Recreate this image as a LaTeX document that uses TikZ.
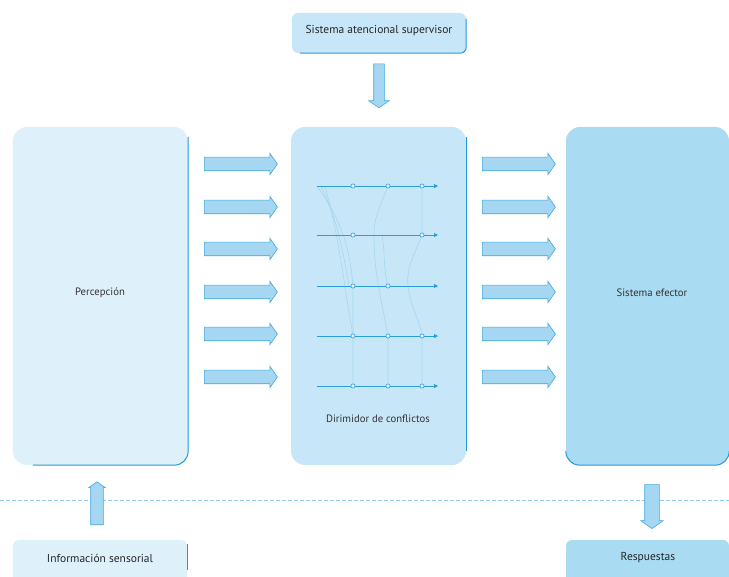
\documentclass[tikz,border=0pt]{standalone}
\usepackage{fontspec}
\setmainfont{PT Sans}
\usetikzlibrary{shapes.arrows,arrows.meta}

\definecolor{lightbox}{HTML}{DEF0FA}
\definecolor{midbox}{HTML}{C7E7F8}
\definecolor{darkbox}{HTML}{A9DBF3}
\definecolor{edgeblue}{HTML}{1F9AD6}
\definecolor{arrowfill}{HTML}{A6D7F2}
\definecolor{netblue}{HTML}{2A9ED8}
\definecolor{faintblue}{HTML}{A6D6EE}

\tikzset{
	box/.style={rounded corners=14pt, inner sep=0pt},
	boxtext/.style={font=\fontsize{10.7}{12}\selectfont, text=black!80},
	bigtext/.style={font=\fontsize{11.5}{13}\selectfont, text=black!85},
	rim/.style={edgeblue, line width=1pt, rounded corners=14pt},
	fatarrow/.style={single arrow, draw=edgeblue!85, fill=arrowfill, line width=0.6pt,
		single arrow head extend=4pt, single arrow tip angle=110,
		minimum height=73pt, inner sep=6.5pt},
	netline/.style={netblue, line width=0.8pt, -{Triangle[length=4pt,width=4pt]}},
	faint/.style={faintblue, line width=0.6pt},
	dot/.style={circle, draw=netblue, fill=white!60!midbox, line width=0.6pt, inner sep=0pt, minimum size=4.2pt}
}

\begin{document}
\begin{tikzpicture}[x=1pt,y=-1pt]
			\clip (0,0) rectangle (729,577);
			\fill[white] (0,0) rectangle (729,577);

			\node[box, fill=lightbox, minimum width=175pt, minimum height=338pt] (perc) at (100.5,296) {};
			\node[box, fill=midbox, minimum width=175pt, minimum height=338pt] (dirim) at (378.5,296) {};
			\node[box, fill=darkbox, minimum width=163pt, minimum height=338pt] (efect) at (647.5,296) {};
			\node[box, rounded corners=6pt, fill=midbox, minimum width=174pt, minimum height=40pt] (sas) at (379,33) {};
			\node[box, rounded corners=6pt, fill=lightbox, minimum width=174pt, minimum height=60pt] (info) at (100,570) {};
			\node[box, rounded corners=6pt, fill=darkbox, minimum width=163pt, minimum height=60pt] (resp) at (647.5,570) {};

			\draw[rim] ([yshift=-10pt]perc.north east) -- (perc.south east) -- ([xshift=20pt]perc.south west);
			\draw[rim] ([yshift=-10pt]dirim.north east) -- ([yshift=14pt]dirim.south east);
			\draw[rim] ([yshift=14pt]efect.south west) -- (efect.south west) -- (efect.south east) -- ([yshift=14pt]efect.south east);
			\draw[rim, rounded corners=6pt] ([yshift=-6pt]sas.north east) -- (sas.south east) -- ([xshift=8pt]sas.south west);
			\draw[rim, rounded corners=6pt] ([yshift=-4pt]info.north east) -- ([yshift=-30pt]info.north east);

			\node[boxtext] (perctext) at (100,293) {Percepción};
			\node[boxtext] (efecttext) at (652,293) {Sistema efector};
			\node[boxtext] (dirimtext) at (378,419) {Dirimidor de conflictos};
			\node[bigtext] (sastext) at (379,31) {Sistema atencional supervisor};
			\node[bigtext] (infotext) at (100,558) {Información sensorial};
			\node[bigtext] (resptext) at (648,558) {Respuestas};

			\coordinate (dl) at (0,500);
			\coordinate (dr) at (729,500);
			\draw[faintblue!85!netblue, dash pattern=on 4pt off 2pt, line width=0.7pt] (dl) -- (dr);

			\foreach \i/\y in {1/164,2/207,3/249,4/292,5/334,6/377} {
				\node[fatarrow] (la\i) at (238.5,\y) {};
				\node[fatarrow] (ra\i) at (516.5,\y) {};
			}

			\node[fatarrow, shape border rotate=270, minimum height=44pt, inner sep=5pt, single arrow head extend=5pt] (down) at (379,84) {};
			\node[fatarrow, shape border rotate=90, minimum height=43pt, inner sep=6pt, single arrow head extend=2pt] (up) at (97,505.5) {};
			\node[fatarrow, shape border rotate=270, minimum height=44pt, inner sep=7pt, single arrow head extend=4pt] (out) at (652,504) {};

			\foreach \r/\y in {1/186,2/235,3/286,4/336,5/386} {
				\coordinate (s\r) at (317,\y);
				\coordinate (e\r) at (438,\y);
				\coordinate (p\r1) at (353,\y);
				\coordinate (p\r2) at (388,\y);
				\coordinate (p\r3) at (422,\y);
			}

			\draw[faint] (s1) to[out=-55,in=95] (p31) -- (p51);
			\draw[faint] ([xshift=8pt]s1) to[out=-75,in=100] (p41);
			\draw[faint] ([xshift=4pt]s1) to[out=-65,in=100] ([xshift=-4pt]p31);
			\draw[faint] (p12) to[out=-110,in=90] ([xshift=-14pt]p22) to[out=-90,in=100] (p42) -- (p52);
			\draw[faint] ([xshift=-6pt]p22) to[out=-80,in=105] (p32);
			\draw[faint] (p13) -- (p23) to[out=-110,in=95] ([xshift=-14pt]p33) to[out=-85,in=100] (p43) -- (p53);

			\foreach \r in {1,...,5}
				\draw[netline] (s\r) -- (e\r);

			\node[dot] (c11) at (p11) {};
			\node[dot] (c12) at (p12) {};
			\node[dot] (c13) at (p13) {};
			\node[dot] (c21) at (p21) {};
			\node[dot] (c23) at (p23) {};
			\node[dot] (c31) at (p31) {};
			\node[dot] (c32) at (p32) {};
			\foreach \r in {4,5} {
				\node[dot] (c\r1) at (p\r1) {};
				\node[dot] (c\r2) at (p\r2) {};
				\node[dot] (c\r3) at (p\r3) {};
			}
		\end{tikzpicture}
\end{document}
